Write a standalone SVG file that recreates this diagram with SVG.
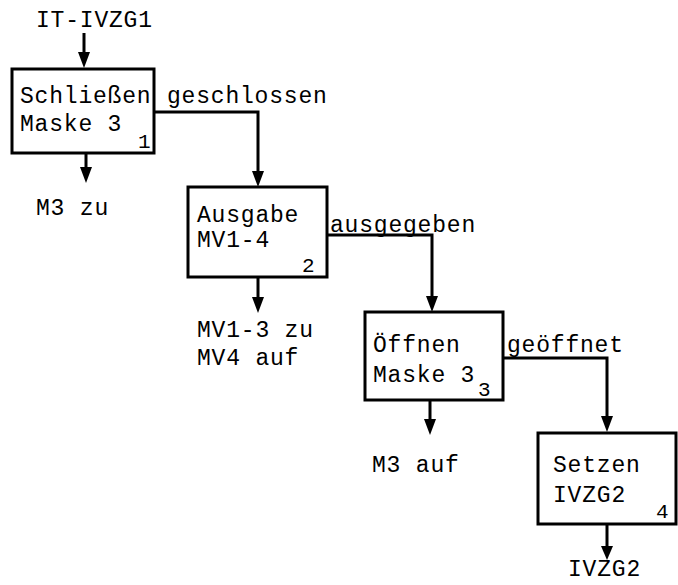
<svg xmlns="http://www.w3.org/2000/svg" width="678" height="585" viewBox="0 0 678 585">
<defs>
<style>
.box{fill:#fff;stroke:#000;stroke-width:3}
.t{font-family:"Liberation Mono","Courier New",monospace;font-size:23px;letter-spacing:0.8px;fill:#000}
.n{font-family:"Liberation Mono","Courier New",monospace;font-size:21px;fill:#000}
.c{fill:none;stroke:#000;stroke-width:3}
</style>
</defs>
<rect width="678" height="585" fill="#fff"/>
<g id="connectors">
<path class="c" d="M84,33 V53"/><path d="M78,52 L90,52 L84,68 Z"/>
<path class="c" d="M154,112 H258 V172"/><path d="M252,171 L264,171 L258,187 Z"/>
<path class="c" d="M86,153 V168"/><path d="M80,167 L92,167 L86,183 Z"/>
<path class="c" d="M327,235 H432 V297"/><path d="M426,296 L438,296 L432,312 Z"/>
<path class="c" d="M258,277 V298"/><path d="M252,297 L264,297 L258,313 Z"/>
<path class="c" d="M503,358 H607 V417"/><path d="M601,416 L613,416 L607,432 Z"/>
<path class="c" d="M430,400 V420"/><path d="M424,419 L436,419 L430,435 Z"/>
<path class="c" d="M607,524 V547"/><path d="M601,546 L613,546 L607,560 Z"/>
</g>
<g id="labels">
<text class="t" x="36" y="27">IT-IVZG1</text>
<text class="t" x="167" y="103">geschlossen</text>
<text class="t" x="36" y="215">M3 zu</text>
<text class="t" x="330" y="232">ausgegeben</text>
<text class="t" x="197" y="337">MV1-3 zu</text>
<text class="t" x="197" y="365">MV4 auf</text>
<text class="t" x="507" y="352">geöffnet</text>
<text class="t" x="372" y="472">M3 auf</text>
<text class="t" x="568" y="576">IVZG2</text>
</g>
<g id="node1">
<rect class="box" x="12" y="69" width="142" height="84"/>
<text class="t" x="20" y="103">Schließen</text>
<text class="t" x="20" y="131">Maske 3</text>
<text class="n" x="138" y="148">1</text>
</g>
<g id="node2">
<rect class="box" x="188" y="187" width="139" height="90"/>
<text class="t" x="197" y="222">Ausgabe</text>
<text class="t" x="197" y="247">MV1-4</text>
<text class="n" x="302" y="272">2</text>
</g>
<g id="node3">
<rect class="box" x="365" y="312" width="138" height="88"/>
<text class="t" x="373" y="352">Öffnen</text>
<text class="t" x="373" y="382">Maske 3</text>
<text class="n" x="478" y="396">3</text>
</g>
<g id="node4">
<rect class="box" x="538" y="433" width="138" height="91"/>
<text class="t" x="553" y="472">Setzen</text>
<text class="t" x="553" y="502">IVZG2</text>
<text class="n" x="656" y="518">4</text>
</g>
</svg>
